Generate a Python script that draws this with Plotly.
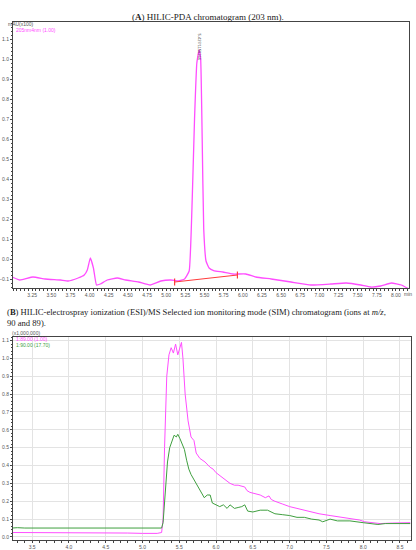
import plotly.graph_objects as go

# panel A: HILIC-PDA trace (time in min, absorbance in mAU x100)
pda_time = [2.99, 3.09, 3.26, 3.42, 3.62, 3.72, 3.85, 3.93, 3.97, 4.01, 4.05, 4.09, 4.14,
            4.23, 4.36, 4.47, 4.64, 4.79, 4.93, 5.06, 5.16, 5.24, 5.30, 5.34, 5.37, 5.40,
            5.43, 5.45, 5.47, 5.49, 5.52, 5.56, 5.62, 5.74, 5.87, 6.04, 6.17, 6.37, 6.63,
            6.89, 7.15, 7.35, 7.54, 7.67, 7.80, 7.94, 8.07, 8.17]
pda_abs = [-0.09, -0.105, -0.09, -0.10, -0.105, -0.11, -0.095, -0.08, -0.055, 0.005, -0.045,
           -0.13, -0.125, -0.105, -0.095, -0.105, -0.115, -0.13, -0.11, -0.105, -0.11, -0.10,
           -0.06, 0.30, 0.70, 0.98, 1.045, 1.0, 0.60, 0.15, -0.01, -0.045, -0.058, -0.065,
           -0.075, -0.075, -0.09, -0.10, -0.115, -0.13, -0.125, -0.12, -0.13, -0.14, -0.135,
           -0.12, -0.13, -0.15]
baseline_time = [5.11, 5.93]
baseline_abs = [-0.115, -0.08]
peak_label = "5.427/1158266"

# panel B: SIM traces (intensity x1,000,000)
mz89_time = [3.23, 3.5, 3.8, 4.0, 4.3, 4.5, 4.8, 5.0, 5.2, 5.26, 5.28, 5.30, 5.33, 5.36,
             5.39, 5.42, 5.45, 5.48, 5.51, 5.53, 5.55, 5.58, 5.62, 5.66, 5.70, 5.73, 5.78,
             5.82, 5.85, 5.92, 5.96, 6.0, 6.06, 6.12, 6.19, 6.25, 6.3, 6.39, 6.42, 6.46,
             6.55, 6.6, 6.67, 6.72, 6.75, 6.8, 6.9, 7.0, 7.1, 7.2, 7.28, 7.4, 7.55, 7.7,
             7.82, 7.95, 8.02, 8.12, 8.23, 8.4, 8.5, 8.64]
mz89_int = [0.025, 0.025, 0.024, 0.023, 0.023, 0.022, 0.022, 0.02, 0.02, 0.025, 0.1, 0.5,
            0.9, 1.02, 1.06, 1.03, 1.08, 1.02, 1.07, 1.09, 1.0, 0.8, 0.65, 0.56, 0.54, 0.47,
            0.44, 0.43, 0.42, 0.39, 0.38, 0.36, 0.34, 0.32, 0.30, 0.29, 0.29, 0.28, 0.26,
            0.25, 0.24, 0.235, 0.22, 0.23, 0.21, 0.20, 0.185, 0.17, 0.16, 0.15, 0.14, 0.13,
            0.12, 0.11, 0.105, 0.095, 0.085, 0.08, 0.075, 0.078, 0.08, 0.08]
mz90_time = [3.23, 3.3, 3.4, 3.6, 3.8, 4.0, 4.2, 4.4, 4.6, 4.8, 5.0, 5.15, 5.22, 5.26,
             5.28, 5.31, 5.34, 5.37, 5.40, 5.43, 5.46, 5.48, 5.51, 5.54, 5.57, 5.60, 5.63,
             5.66, 5.70, 5.75, 5.80, 5.84, 5.88, 5.92, 5.95, 6.0, 6.05, 6.1, 6.15, 6.19,
             6.25, 6.3, 6.35, 6.39, 6.43, 6.5, 6.6, 6.7, 6.8, 6.9, 7.0, 7.1, 7.2, 7.3, 7.4,
             7.45, 7.55, 7.65, 7.82, 8.0, 8.1, 8.2, 8.3, 8.45, 8.64]
mz90_int = [0.05, 0.052, 0.05, 0.05, 0.049, 0.049, 0.048, 0.05, 0.05, 0.049, 0.048, 0.05,
            0.048, 0.05, 0.08, 0.25, 0.42, 0.5, 0.54, 0.57, 0.56, 0.575, 0.55, 0.52, 0.49,
            0.43, 0.38, 0.35, 0.32, 0.28, 0.25, 0.22, 0.235, 0.235, 0.19, 0.18, 0.17, 0.18,
            0.16, 0.18, 0.16, 0.165, 0.17, 0.18, 0.145, 0.14, 0.15, 0.15, 0.13, 0.125, 0.12,
            0.11, 0.11, 0.10, 0.095, 0.085, 0.10, 0.09, 0.09, 0.08, 0.075, 0.07, 0.075,
            0.075, 0.075]

W, H = 416, 550
magenta = "#ff4dff"
green = "#3f9f3f"
tickfont = dict(family="Liberation Sans", size=5, color="#555")
serif = "Liberation Serif"

fig = go.Figure()
fig.add_trace(go.Scatter(x=pda_time, y=pda_abs, mode="lines", line=dict(color=magenta, width=1.3, shape="spline", smoothing=0.35),
                         xaxis="x", yaxis="y", showlegend=False))
fig.add_trace(go.Scatter(x=baseline_time, y=baseline_abs, mode="lines+markers", line=dict(color="#ff3b3b", width=1),
                         marker=dict(symbol="line-ns-open", size=5, color="#ff3b3b", line=dict(width=1.2)),
                         xaxis="x", yaxis="y", showlegend=False))
fig.add_trace(go.Scatter(x=mz89_time, y=mz89_int, mode="lines", line=dict(color=magenta, width=1),
                         xaxis="x2", yaxis="y2", showlegend=False))
fig.add_trace(go.Scatter(x=mz90_time, y=mz90_int, mode="lines", line=dict(color=green, width=1),
                         xaxis="x2", yaxis="y2", showlegend=False))

axis_common = dict(showline=True, linecolor="#444", linewidth=1, mirror=True, ticks="outside", ticklen=2,
                   tickcolor="#444", tickfont=tickfont, zeroline=False, automargin=False)

fig.update_layout(
    width=W, height=H, margin=dict(l=0, r=0, t=0, b=0),
    paper_bgcolor="white", plot_bgcolor="white",
    xaxis=dict(domain=[13 / W, 409 / W], range=[3.0, 8.17], tickvals=[3.25 + 0.25 * i for i in range(20)],
               tickformat=".2f", showgrid=False, anchor="y",
               minor=dict(ticks="outside", ticklen=1.5, dtick=0.05, tickcolor="#444"), **axis_common),
    yaxis=dict(domain=[1 - 288 / H, 1 - 22 / H], range=[-0.145, 1.185], tick0=0, dtick=0.1, tickformat=".1f",
               showgrid=False, anchor="x", minor=dict(ticks="outside", ticklen=1.5, dtick=0.02, tickcolor="#444"),
               **axis_common),
    xaxis2=dict(domain=[13 / W, 411 / W], range=[3.24, 8.65], tick0=3.5, dtick=0.5, tickformat=".1f",
                showgrid=True, gridcolor="#e3e3e3", anchor="y2",
                minor=dict(ticks="outside", ticklen=1.5, dtick=0.1, tickcolor="#444"), **axis_common),
    yaxis2=dict(domain=[1 - 540 / H, 1 - 337 / H], range=[-0.017, 1.12], tick0=0, dtick=0.1, tickformat=".1f",
                showgrid=True, gridcolor="#e3e3e3", anchor="x2",
                minor=dict(ticks="outside", ticklen=1.5, dtick=0.02, tickcolor="#444"), **axis_common),
)

ann = [
    dict(x=0.5, y=1 - 10 / H, text="(<b>A</b>) HILIC-PDA chromatogram (203 nm).", showarrow=False,
         font=dict(family=serif, size=9, color="#222")),
    dict(x=5 / W, y=1 - 312 / H, xanchor="left",
         text="(<b>B</b>) HILIC-electrospray ionization (ESI)/MS Selected ion monitoring mode (SIM) chromatogram (ions at <i>m/z</i>,",
         showarrow=False, font=dict(family=serif, size=8.6, color="#222")),
    dict(x=5 / W, y=1 - 323 / H, xanchor="left", text="90 and 89).", showarrow=False,
         font=dict(family=serif, size=8.6, color="#222")),
    dict(x=6 / W, y=1 - 19 / H, xanchor="left", text="mAU(x100)", showarrow=False, font=tickfont),
    dict(x=14 / W, y=1 - 25 / H, xanchor="left", text="205nm4nm (1.00)", showarrow=False,
         font=dict(family="Liberation Sans", size=5, color=magenta)),
    dict(x=403 / W, y=1 - 294 / H, xanchor="left", text="min", showarrow=False, borderpad=0, font=tickfont),
    dict(x=5.44, y=1 - 33 / H, xref="x", yref="paper", text=peak_label, textangle=90, showarrow=False,
         borderpad=0, font=dict(family="Liberation Sans", size=4, color="#444")),
    dict(x=10 / W, y=1 - 333 / H, xanchor="left", text="(x1,000,000)", showarrow=False, font=tickfont),
    dict(x=14 / W, y=1 - 339 / H, xanchor="left", text="1:89.00 (1.00)", showarrow=False,
         font=dict(family="Liberation Sans", size=5, color=magenta)),
    dict(x=14 / W, y=1 - 345 / H, xanchor="left", text="1:90.00 (17.70)", showarrow=False,
         font=dict(family="Liberation Sans", size=5, color=green)),
]
for a in ann:
    a.setdefault("xref", "paper")
    a.setdefault("yref", "paper")
    fig.add_annotation(**a)

# remove the default page margin so the figure sits at the window's corner
fig.write_html("out.html", config={"displayModeBar": False},
               post_script="document.body.style.margin='0';")
